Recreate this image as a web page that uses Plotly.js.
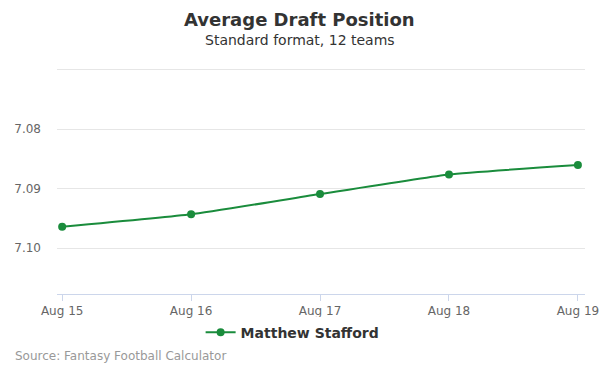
<!DOCTYPE html>
<html>
<head>
<meta charset="utf-8">
<script src="https://cdn.plot.ly/plotly-3.0.1.min.js"></script>
<style>
  html, body { margin: 0; padding: 0; background: #fff; }
  #chart { width: 600px; height: 375px; }
</style>
</head>
<body>
<div id="chart"></div>
<script>
const dates = ["Aug 15", "Aug 16", "Aug 17", "Aug 18", "Aug 19"];
const adp = [7.0964, 7.0943, 7.0909, 7.0876, 7.0860];
const playerName = "Matthew Stafford";
const yTickVals = [7.07, 7.08, 7.09, 7.10];
const yTickText = ["", "7.08", "7.09", "7.10"];

const font = "DejaVu Sans, sans-serif";
const green = "#1a8c3c";

const trace = {
  x: dates,
  y: adp,
  type: "scatter",
  mode: "lines+markers",
  name: playerName,
  line: { color: green, width: 2, shape: "spline", smoothing: 0.4 },
  marker: { color: green, size: 8 },
  hoverinfo: "x+y"
};

const layout = {
  width: 600,
  height: 375,
  margin: { l: 57, r: 15, t: 68, b: 81 },
  paper_bgcolor: "#fff",
  plot_bgcolor: "#fff",
  font: { family: font, color: "#666", size: 12 },
  showlegend: true,
  legend: {
    orientation: "h",
    x: 0.272, xanchor: "left",
    y: -0.100, yanchor: "top",
    font: { family: font, size: 14, color: "#333", weight: "bold" },
    itemwidth: 30
  },
  xaxis: {
    type: "category",
    range: [-0.04, 4.055],
    showgrid: false,
    zeroline: false,
    showline: true,
    linecolor: "#ccd6eb",
    linewidth: 1,
    ticks: "outside",
    ticklen: 6,
    tickcolor: "#ccd6eb",
    tickfont: { family: font, size: 12, color: "#666" }
  },
  yaxis: {
    range: [7.1077, 7.0697],
    tickvals: yTickVals,
    ticktext: yTickText,
    showgrid: true,
    gridcolor: "#e6e6e6",
    gridwidth: 1,
    zeroline: false,
    showline: false,
    ticks: "",
    ticklabelstandoff: 15,
    tickfont: { family: font, size: 12, color: "#666" }
  },
  annotations: [
    {
      text: "<b>Average Draft Position</b>",
      xref: "paper", yref: "paper",
      x: 0.460, xanchor: "center",
      y: 1, yanchor: "middle",
      yshift: 68 - 19,
      showarrow: false,
      font: { family: font, size: 18, color: "#333" }
    },
    {
      text: "Standard format, 12 teams",
      xref: "paper", yref: "paper",
      x: 0.460, xanchor: "center",
      y: 1, yanchor: "middle",
      yshift: 68 - 40,
      showarrow: false,
      font: { family: font, size: 14, color: "#333" }
    },
    {
      text: "Source: Fantasy Football Calculator",
      xref: "paper", yref: "paper",
      x: 0, xanchor: "left", xshift: -44,
      y: 0, yanchor: "middle",
      yshift: -(356 - 294),
      showarrow: false,
      font: { family: font, size: 12, color: "#999" }
    }
  ]
};

Plotly.newPlot("chart", [trace], layout, { displayModeBar: false, staticPlot: true });
</script>
</body>
</html>
